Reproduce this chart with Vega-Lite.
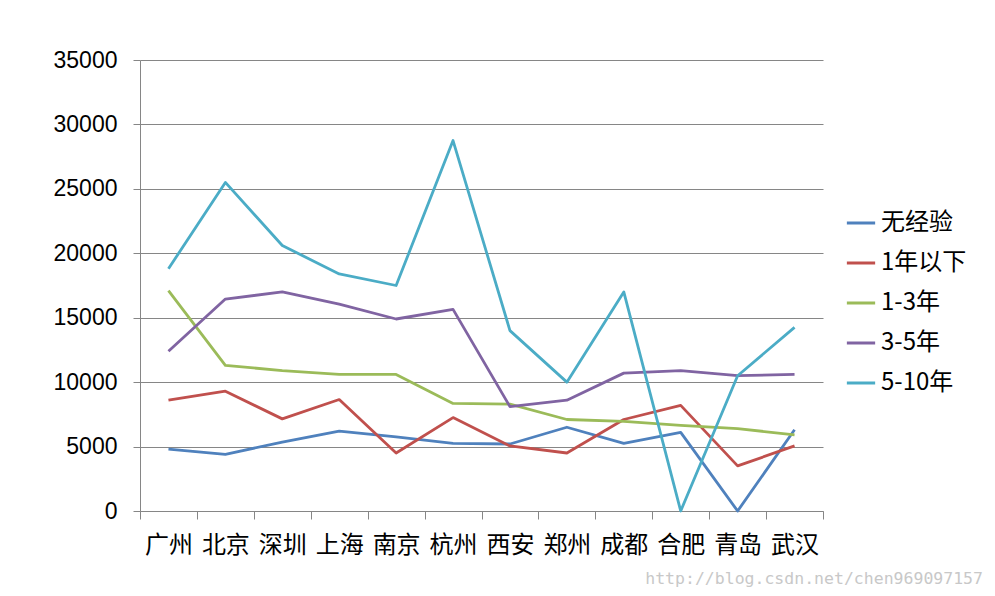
{
  "$schema": "https://vega.github.io/schema/vega-lite/v6.json",
  "width": 683,
  "height": 451,
  "autosize": "none",
  "padding": {"left": 140, "top": 60, "right": 172, "bottom": 85},
  "background": "white",
  "config": {"view": {"stroke": null}, "font": "Noto Sans CJK SC"},
  "title": {"text": "http://blog.csdn.net/chen969097157", "orient": "bottom", "anchor": "end", "frame": "group", "color": "#c8c8c8", "fontSize": 16.5, "font": "DejaVu Sans Mono", "fontWeight": "normal", "offset": 14, "dx": 160},
  "data": {"values": [
    {"city":"广州","s":"无经验","v":4800},{"city":"北京","s":"无经验","v":4400},{"city":"深圳","s":"无经验","v":5350},{"city":"上海","s":"无经验","v":6200},{"city":"南京","s":"无经验","v":5750},{"city":"杭州","s":"无经验","v":5250},{"city":"西安","s":"无经验","v":5200},{"city":"郑州","s":"无经验","v":6500},{"city":"成都","s":"无经验","v":5250},{"city":"合肥","s":"无经验","v":6100},{"city":"青岛","s":"无经验","v":0},{"city":"武汉","s":"无经验","v":6300},
    {"city":"广州","s":"1年以下","v":8600},{"city":"北京","s":"1年以下","v":9300},{"city":"深圳","s":"1年以下","v":7150},{"city":"上海","s":"1年以下","v":8650},{"city":"南京","s":"1年以下","v":4500},{"city":"杭州","s":"1年以下","v":7250},{"city":"西安","s":"1年以下","v":5050},{"city":"郑州","s":"1年以下","v":4500},{"city":"成都","s":"1年以下","v":7100},{"city":"合肥","s":"1年以下","v":8200},{"city":"青岛","s":"1年以下","v":3500},{"city":"武汉","s":"1年以下","v":5050},
    {"city":"广州","s":"1-3年","v":17100},{"city":"北京","s":"1-3年","v":11300},{"city":"深圳","s":"1-3年","v":10900},{"city":"上海","s":"1-3年","v":10600},{"city":"南京","s":"1-3年","v":10600},{"city":"杭州","s":"1-3年","v":8350},{"city":"西安","s":"1-3年","v":8300},{"city":"郑州","s":"1-3年","v":7100},{"city":"成都","s":"1-3年","v":6950},{"city":"合肥","s":"1-3年","v":6650},{"city":"青岛","s":"1-3年","v":6400},{"city":"武汉","s":"1-3年","v":5900},
    {"city":"广州","s":"3-5年","v":12400},{"city":"北京","s":"3-5年","v":16450},{"city":"深圳","s":"3-5年","v":17000},{"city":"上海","s":"3-5年","v":16050},{"city":"南京","s":"3-5年","v":14900},{"city":"杭州","s":"3-5年","v":15650},{"city":"西安","s":"3-5年","v":8100},{"city":"郑州","s":"3-5年","v":8600},{"city":"成都","s":"3-5年","v":10700},{"city":"合肥","s":"3-5年","v":10900},{"city":"青岛","s":"3-5年","v":10500},{"city":"武汉","s":"3-5年","v":10600},
    {"city":"广州","s":"5-10年","v":18800},{"city":"北京","s":"5-10年","v":25500},{"city":"深圳","s":"5-10年","v":20600},{"city":"上海","s":"5-10年","v":18400},{"city":"南京","s":"5-10年","v":17500},{"city":"杭州","s":"5-10年","v":28750},{"city":"西安","s":"5-10年","v":14000},{"city":"郑州","s":"5-10年","v":10000},{"city":"成都","s":"5-10年","v":17000},{"city":"合肥","s":"5-10年","v":0},{"city":"青岛","s":"5-10年","v":10500},{"city":"武汉","s":"5-10年","v":14250}
  ]},
  "mark": {"type": "line", "strokeWidth": 2.8, "strokeJoin": "round"},
  "encoding": {
    "x": {"field": "city", "type": "nominal", "sort": null,
      "scale": {"type": "band", "paddingInner": 0, "paddingOuter": 0},
      "axis": {"title": null, "labelAngle": 0, "labelFontSize": 24, "labelColor": "#000", "labelPadding": 14, "tickSize": 8, "tickColor": "#868686", "domainColor": "#868686", "bandPosition": 0, "tickBand": "extent", "grid": false, "labelFont": "Noto Sans CJK SC"}},
    "y": {"field": "v", "type": "quantitative",
      "scale": {"domain": [0, 35000], "nice": false},
      "axis": {"title": null, "values": [0,5000,10000,15000,20000,25000,30000,35000], "format": "d", "labelFontSize": 23, "labelColor": "#000", "labelPadding": 16, "tickSize": 7, "tickColor": "#868686", "domainColor": "#868686", "gridColor": "#868686", "gridOpacity": 1, "labelFont": "Liberation Sans"}},
    "color": {"field": "s", "type": "nominal", "sort": ["无经验","1年以下","1-3年","3-5年","5-10年"],
      "scale": {"domain": ["无经验","1年以下","1-3年","3-5年","5-10年"], "range": ["#4F81BD","#C0504D","#9BBB59","#8064A2","#4BACC6"]},
      "legend": {"title": null, "orient": "none", "legendX": 705, "legendY": 147, "symbolType": "stroke", "symbolSize": 800, "symbolStrokeWidth": 3, "labelFontSize": 24, "labelColor": "#000", "rowPadding": 12, "labelOffset": 4, "labelFont": "Noto Sans CJK SC"}}
  }
}
